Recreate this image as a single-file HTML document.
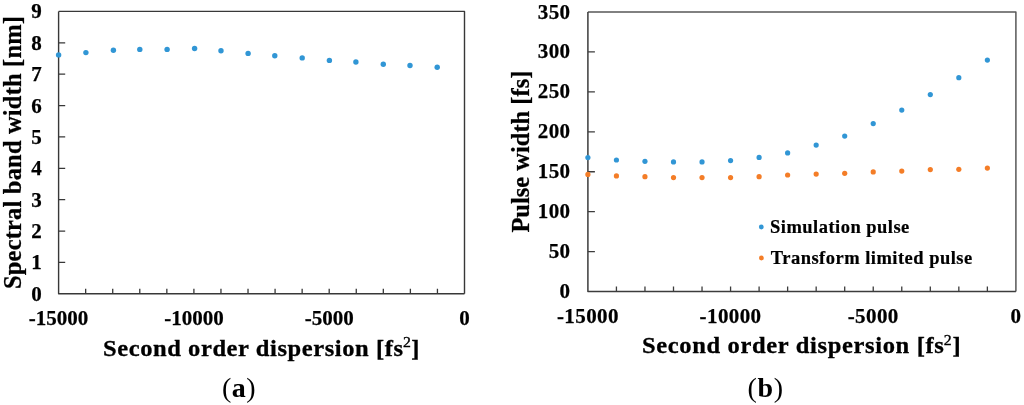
<!DOCTYPE html>
<html><head><meta charset="utf-8"><title>Figure</title>
<style>html,body{margin:0;padding:0;background:#fff;width:1024px;height:405px;overflow:hidden}svg{display:block}</style>
</head><body>
<svg width="1024" height="405" viewBox="0 0 1024 405">
<style>text{font-family:'Liberation Serif', 'Times New Roman', serif;font-weight:bold;fill:#000} .ta{font-size:21px;stroke:#000;stroke-width:0.25px} .tb{font-size:21px;letter-spacing:0.4px;stroke:#000;stroke-width:0.25px} .at{font-size:24.5px;stroke:#000;stroke-width:0.25px} .xt{font-size:23.6px;stroke:#000;stroke-width:0.3px} .lg{font-size:18.5px;stroke:#000;stroke-width:0.2px} .cap{font-size:28px} .sup{font-weight:normal;font-size:15.2px;stroke:#000;stroke-width:0.35px}</style>
<rect width="1024" height="405" fill="#fff"/>
<path d="M58.6 262.42h6.6 M58.6 231.04h6.6 M58.6 199.67h6.6 M58.6 168.29h6.6 M58.6 136.91h6.6 M58.6 105.53h6.6 M58.6 74.16h6.6 M58.6 42.78h6.6 M85.66 293.8v-5 M112.72 293.8v-5 M139.78 293.8v-5 M166.84 293.8v-5 M193.9 293.8v-5 M220.96 293.8v-5 M248.02 293.8v-5 M275.08 293.8v-5 M302.14 293.8v-5 M329.2 293.8v-5 M356.26 293.8v-5 M383.32 293.8v-5 M410.38 293.8v-5 M437.44 293.8v-5" stroke="#383838" stroke-width="1.3" fill="none"/>
<path d="M58.6 11.4H464.5V293.8" fill="none" stroke="#383838" stroke-width="1.4" stroke-linejoin="round"/>
<path d="M58.6 11.4V293.8H464.5" fill="none" stroke="#383838" stroke-width="1.4" stroke-linejoin="round"/>
<text class="ta" x="41.7" y="300.8" text-anchor="end">0</text>
<text class="ta" x="41.7" y="269.42" text-anchor="end">1</text>
<text class="ta" x="41.7" y="238.04" text-anchor="end">2</text>
<text class="ta" x="41.7" y="206.67" text-anchor="end">3</text>
<text class="ta" x="41.7" y="175.29" text-anchor="end">4</text>
<text class="ta" x="41.7" y="143.91" text-anchor="end">5</text>
<text class="ta" x="41.7" y="112.53" text-anchor="end">6</text>
<text class="ta" x="41.7" y="81.16" text-anchor="end">7</text>
<text class="ta" x="41.7" y="49.78" text-anchor="end">8</text>
<text class="ta" x="41.7" y="18.4" text-anchor="end">9</text>
<text class="ta" x="58.6" y="325.1" text-anchor="middle">-15000</text>
<text class="ta" x="193.9" y="325.1" text-anchor="middle">-10000</text>
<text class="ta" x="329.2" y="325.1" text-anchor="middle">-5000</text>
<text class="ta" x="464.5" y="325.1" text-anchor="middle">0</text>
<path d="M587.9 251.66h7 M587.9 211.71h7 M587.9 171.77h7 M587.9 131.83h7 M587.9 91.89h7 M587.9 51.94h7 M616.43 291.6v-5 M644.97 291.6v-5 M673.5 291.6v-5 M702.03 291.6v-5 M730.57 291.6v-5 M759.1 291.6v-5 M787.63 291.6v-5 M816.17 291.6v-5 M844.7 291.6v-5 M873.23 291.6v-5 M901.77 291.6v-5 M930.3 291.6v-5 M958.83 291.6v-5 M987.37 291.6v-5" stroke="#3c3c3c" stroke-width="1.3" fill="none"/>
<path d="M587.9 12H1015.9V291.6" fill="none" stroke="#585858" stroke-width="1.5" stroke-linejoin="round"/>
<path d="M587.9 12V291.6H1015.9" fill="none" stroke="#3c3c3c" stroke-width="1.5" stroke-linejoin="round"/>
<text class="tb" x="570.5" y="298.1" text-anchor="end">0</text>
<text class="tb" x="570.5" y="258.16" text-anchor="end">50</text>
<text class="tb" x="570.5" y="218.21" text-anchor="end">100</text>
<text class="tb" x="570.5" y="178.27" text-anchor="end">150</text>
<text class="tb" x="570.5" y="138.33" text-anchor="end">200</text>
<text class="tb" x="570.5" y="98.39" text-anchor="end">250</text>
<text class="tb" x="570.5" y="58.44" text-anchor="end">300</text>
<text class="tb" x="570.5" y="18.5" text-anchor="end">350</text>
<text class="tb" x="587.9" y="322.5" text-anchor="middle">-15000</text>
<text class="tb" x="730.57" y="322.5" text-anchor="middle">-10000</text>
<text class="tb" x="873.23" y="322.5" text-anchor="middle">-5000</text>
<text class="tb" x="1015.9" y="322.5" text-anchor="middle">0</text>
<circle cx="58.6" cy="54.9" r="2.7" fill="#3196d5"/>
<circle cx="85.9" cy="52.6" r="2.7" fill="#3196d5"/>
<circle cx="113.4" cy="50.2" r="2.7" fill="#3196d5"/>
<circle cx="139.8" cy="49.4" r="2.7" fill="#3196d5"/>
<circle cx="167.1" cy="49.4" r="2.7" fill="#3196d5"/>
<circle cx="194.6" cy="48.5" r="2.7" fill="#3196d5"/>
<circle cx="221" cy="50.8" r="2.7" fill="#3196d5"/>
<circle cx="248.1" cy="53.4" r="2.7" fill="#3196d5"/>
<circle cx="274.8" cy="55.7" r="2.7" fill="#3196d5"/>
<circle cx="302.2" cy="57.9" r="2.7" fill="#3196d5"/>
<circle cx="329.4" cy="60.4" r="2.7" fill="#3196d5"/>
<circle cx="355.9" cy="62" r="2.7" fill="#3196d5"/>
<circle cx="383.3" cy="64.2" r="2.7" fill="#3196d5"/>
<circle cx="410" cy="65.5" r="2.7" fill="#3196d5"/>
<circle cx="437.2" cy="67.3" r="2.7" fill="#3196d5"/>
<circle cx="587.9" cy="157.6" r="2.6" fill="#3196d5"/>
<circle cx="587.9" cy="174.4" r="2.6" fill="#f47d27"/>
<circle cx="616.43" cy="160" r="2.6" fill="#3196d5"/>
<circle cx="616.43" cy="175.9" r="2.6" fill="#f47d27"/>
<circle cx="644.97" cy="161.3" r="2.6" fill="#3196d5"/>
<circle cx="644.97" cy="176.7" r="2.6" fill="#f47d27"/>
<circle cx="673.5" cy="161.9" r="2.6" fill="#3196d5"/>
<circle cx="673.5" cy="177.6" r="2.6" fill="#f47d27"/>
<circle cx="702.03" cy="161.9" r="2.6" fill="#3196d5"/>
<circle cx="702.03" cy="177.6" r="2.6" fill="#f47d27"/>
<circle cx="730.57" cy="160.6" r="2.6" fill="#3196d5"/>
<circle cx="730.57" cy="177.6" r="2.6" fill="#f47d27"/>
<circle cx="759.1" cy="157.4" r="2.6" fill="#3196d5"/>
<circle cx="759.1" cy="176.7" r="2.6" fill="#f47d27"/>
<circle cx="787.63" cy="152.9" r="2.6" fill="#3196d5"/>
<circle cx="787.63" cy="175" r="2.6" fill="#f47d27"/>
<circle cx="816.17" cy="145.1" r="2.6" fill="#3196d5"/>
<circle cx="816.17" cy="174.1" r="2.6" fill="#f47d27"/>
<circle cx="844.7" cy="136.1" r="2.6" fill="#3196d5"/>
<circle cx="844.7" cy="173.3" r="2.6" fill="#f47d27"/>
<circle cx="873.23" cy="123.6" r="2.6" fill="#3196d5"/>
<circle cx="873.23" cy="171.9" r="2.6" fill="#f47d27"/>
<circle cx="901.77" cy="110.1" r="2.6" fill="#3196d5"/>
<circle cx="901.77" cy="171.1" r="2.6" fill="#f47d27"/>
<circle cx="930.3" cy="94.6" r="2.6" fill="#3196d5"/>
<circle cx="930.3" cy="169.6" r="2.6" fill="#f47d27"/>
<circle cx="958.83" cy="77.7" r="2.6" fill="#3196d5"/>
<circle cx="958.83" cy="169.3" r="2.6" fill="#f47d27"/>
<circle cx="987.37" cy="60.1" r="2.6" fill="#3196d5"/>
<circle cx="987.37" cy="168.1" r="2.6" fill="#f47d27"/>
<text class="at xt" transform="translate(103,355.5) scale(1.04,1)" style="letter-spacing:0.55px">Second order dispersion [fs<tspan class="sup" dx="-0.6" dy="-8.2">2</tspan><tspan dy="8.2">]</tspan></text>
<text class="at xt" transform="translate(642,352.7) scale(1.04,1)" style="letter-spacing:0.62px">Second order dispersion [fs<tspan class="sup" dx="-0.6" dy="-8.2">2</tspan><tspan dy="8.2">]</tspan></text>
<text class="at" transform="translate(21.3,289) rotate(-90)" style="letter-spacing:0.18px">Spectral band width [nm]</text>
<text class="at" transform="translate(529,232.6) rotate(-90)" style="letter-spacing:0px">Pulse width [fs]</text>
<circle cx="761.3" cy="227" r="2.4" fill="#3196d5"/>
<circle cx="761.4" cy="258" r="2.4" fill="#f47d27"/>
<text class="lg" x="770" y="233" style="letter-spacing:0.48px">Simulation pulse</text>
<text class="lg" x="770.8" y="263.5" style="letter-spacing:0.48px">Transform limited pulse</text>
<text class="cap" x="222" y="396.9" style="letter-spacing:0.5px"><tspan font-weight="normal">(</tspan>a<tspan font-weight="normal">)</tspan></text>
<text class="cap" x="747.5" y="396.9" style="letter-spacing:0.6px"><tspan font-weight="normal">(</tspan>b<tspan font-weight="normal">)</tspan></text>
</svg>
</body></html>
